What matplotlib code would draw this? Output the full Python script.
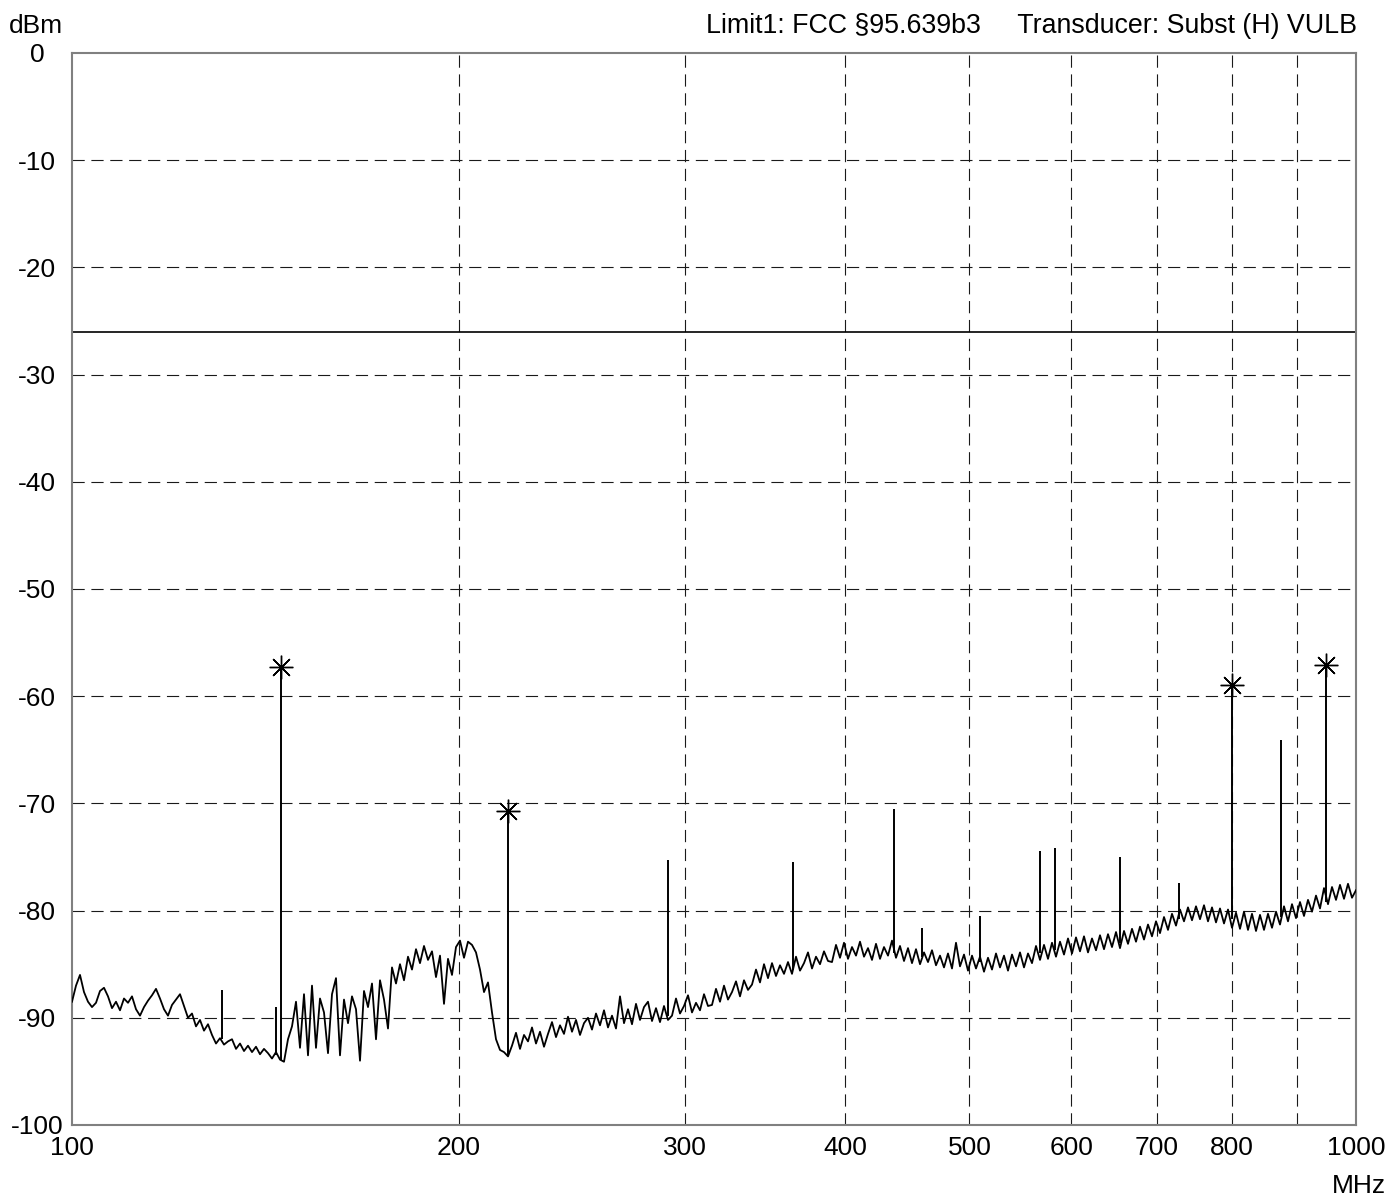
import numpy as np
import matplotlib
matplotlib.use("Agg")
import matplotlib.pyplot as plt

plt.rcParams['font.family'] = ['Liberation Sans', 'DejaVu Sans']

# ---- data ----
# swept trace levels (dBm), equally spaced on the log frequency axis 100..1000 MHz
trace_levels = [
    -88.5, -87.0, -86.0, -87.6, -88.5, -89.0, -88.6, -87.5, -87.2, -88.0,
    -89.1, -88.5, -89.3, -88.2, -88.6, -88.0, -89.2, -89.8, -89.0, -88.4,
    -87.9, -87.3, -88.2, -89.2, -89.8, -88.8, -88.3, -87.8, -88.9, -90.0,
    -89.6, -90.8, -90.2, -91.2, -90.6, -91.6, -92.4, -91.9, -92.5, -92.2,
    -92.0, -92.9, -92.4, -93.1, -92.6, -93.2, -92.7, -93.4, -92.9, -93.3,
    -93.8, -93.2, -93.9, -94.1, -92.0, -90.8, -88.5, -92.8, -87.8, -93.5,
    -87.0, -92.8, -88.2, -89.5, -93.3, -87.8, -86.3, -93.5, -88.3, -90.5,
    -88.0, -89.2, -94.0, -87.5, -89.0, -86.8, -92.0, -86.5, -88.3, -91.0,
    -85.3, -86.8, -85.0, -86.5, -84.3, -85.5, -83.6, -84.9, -83.3, -84.6,
    -83.8, -86.2, -84.2, -88.7, -84.5, -86.0, -83.4, -82.8, -84.4, -82.9,
    -83.2, -83.9, -85.5, -87.6, -86.7, -89.5, -92.0, -93.0, -93.2, -93.6,
    -92.6, -91.4, -92.9, -91.6, -92.2, -90.9, -92.4, -91.3, -92.7, -91.5,
    -90.4, -91.8, -90.7, -91.5, -89.9, -91.3, -90.2, -91.6, -90.5, -90.0,
    -91.1, -89.6, -90.7, -89.3, -90.9, -89.8, -91.0, -88.0, -90.5, -89.2,
    -90.6, -88.7, -90.2, -89.0, -88.5, -90.3, -89.1, -90.4, -88.9, -90.2,
    -89.8, -88.2, -89.6, -88.9, -87.9, -89.5, -88.6, -89.3, -87.8, -88.9,
    -88.8, -87.3, -88.5, -87.0, -88.3, -87.6, -86.6, -88.0, -86.5, -87.4,
    -86.9, -85.5, -86.7, -85.0, -86.3, -84.9, -86.1, -85.1, -85.9, -84.8,
    -85.9, -84.3, -85.6, -84.9, -83.9, -85.4, -84.3, -85.0, -83.8, -84.7,
    -84.8, -83.2, -84.4, -83.0, -84.5, -83.4, -84.2, -82.9, -84.3, -83.5,
    -84.6, -83.1, -84.5, -83.4, -84.2, -82.8, -84.4, -83.3, -84.7, -83.5,
    -84.9, -83.6, -85.0, -83.9, -84.8, -83.7, -85.1, -84.2, -85.3, -84.0,
    -85.4, -83.0, -85.2, -84.1, -85.6, -84.2, -85.4, -84.3, -85.7, -84.4,
    -85.5, -84.0, -85.3, -84.2, -85.6, -84.1, -85.2, -83.9, -85.3, -84.0,
    -84.9, -83.3, -84.6, -83.2, -84.5, -83.0, -84.3, -82.9, -84.1, -82.6,
    -84.0, -82.5, -83.8, -82.4, -83.9, -82.6, -83.7, -82.3, -83.6, -82.2,
    -83.4, -82.0, -83.5, -81.9, -83.1, -81.7, -82.9, -81.5, -82.7, -81.3,
    -82.4, -81.0, -82.1, -80.6, -81.8, -80.3, -81.4, -79.9, -81.0, -79.7,
    -80.9, -79.6, -80.8, -79.5, -81.0, -79.7, -81.1, -79.8, -81.2, -79.9,
    -81.6, -80.2, -81.7, -80.1, -81.8, -80.3, -81.9, -80.4, -81.8, -80.3,
    -81.6, -80.1, -81.3, -79.6, -81.0, -79.4, -80.7, -79.2, -80.5, -79.0,
    -80.1, -78.6, -79.8, -77.9, -79.4, -77.8, -79.0, -77.6, -78.9, -77.5,
    -78.8, -78.1,
]

# discrete emissions (MHz): foot level and peak level (dBm)
spike_freqs = [130.9, 144.1, 145.5, 218.6, 291.2, 364.3, 436.8, 459.0,
               509.5, 567.4, 583.0, 655.1, 728.0, 800.7, 874.0, 947.6]
spike_bases = [-92.0, -93.5, -93.9, -93.5, -89.8, -85.5, -84.0, -84.3,
               -84.8, -84.0, -83.7, -83.0, -80.8, -80.8, -80.6, -79.2]
spike_levels = [-87.4, -89.0, -57.3, -70.7, -75.3, -75.5, -70.5, -81.6,
                -80.5, -74.4, -74.2, -75.0, -77.4, -59.0, -64.1, -57.1]

# marker peaks
marker_freqs = [145.5, 218.6, 800.7, 947.6]
marker_levels = [-57.3, -70.7, -59.0, -57.1]

limit_level = -26.0

x_ticks = [100, 200, 300, 400, 500, 600, 700, 800, 1000]
x_tick_labels = ["100", "200", "300", "400", "500", "600", "700", "800", "1000"]
x_grid = [200, 300, 400, 500, 600, 700, 800, 900]
y_ticks = list(range(-100, 1, 10))

# ---- figure ----
W, H = 1388, 1198
fig = plt.figure(figsize=(W / 100, H / 100), dpi=100)
L, R, T, B = 72, 1356, 53, 1125
ax = fig.add_axes([L / W, (H - B) / H, (R - L) / W, (B - T) / H])

trace_freqs = np.logspace(2, 3, len(trace_levels))
ax.plot(trace_freqs, trace_levels, color='black', lw=1.3, zorder=3)
ax.vlines(spike_freqs, spike_bases, spike_levels, color='black', lw=1.4, zorder=3)

ax.plot(marker_freqs, marker_levels, linestyle='none', marker=(8, 2, 0),
        markersize=17, markeredgewidth=1.0, color='black', zorder=4)

ax.axhline(limit_level, color='black', lw=1.2, zorder=2)

ax.set_xscale('log')
ax.set_xlim(100, 1000)
ax.set_ylim(-100, 0)

grid_kw = dict(color='#1a1a1a', lw=0.8, linestyle=(0, (11, 6)), zorder=1)
for g in x_grid:
    ax.axvline(g, **grid_kw)
for g in y_ticks[1:-1]:
    ax.axhline(g, **grid_kw)

ax.xaxis.set_minor_locator(matplotlib.ticker.NullLocator())
ax.set_xticks(x_ticks)
ax.set_xticklabels(x_tick_labels)
ax.set_yticks(y_ticks)
ax.set_yticklabels([str(v) for v in y_ticks])
ax.tick_params(axis='both', length=0, labelsize=19)
ax.tick_params(axis='x', pad=8)
ax.tick_params(axis='y', pad=25)
for lab in ax.get_yticklabels():
    lab.set_horizontalalignment('center')

for s in ax.spines.values():
    s.set_color('#808080')
    s.set_linewidth(1.5)

fig.text(36 / W, 1 - 26 / H, "dBm", ha='center', va='center', fontsize=19)
fig.text(1357 / W, 1 - 26 / H,
         "Limit1: FCC \u00a795.639b3     Transducer: Subst (H) VULB",
         ha='right', va='center', fontsize=19.3)
fig.text(1386 / W, 1 - 1186 / H, "MHz", ha='right', va='center', fontsize=19)

fig.savefig("out.png", dpi=100, facecolor='white')
